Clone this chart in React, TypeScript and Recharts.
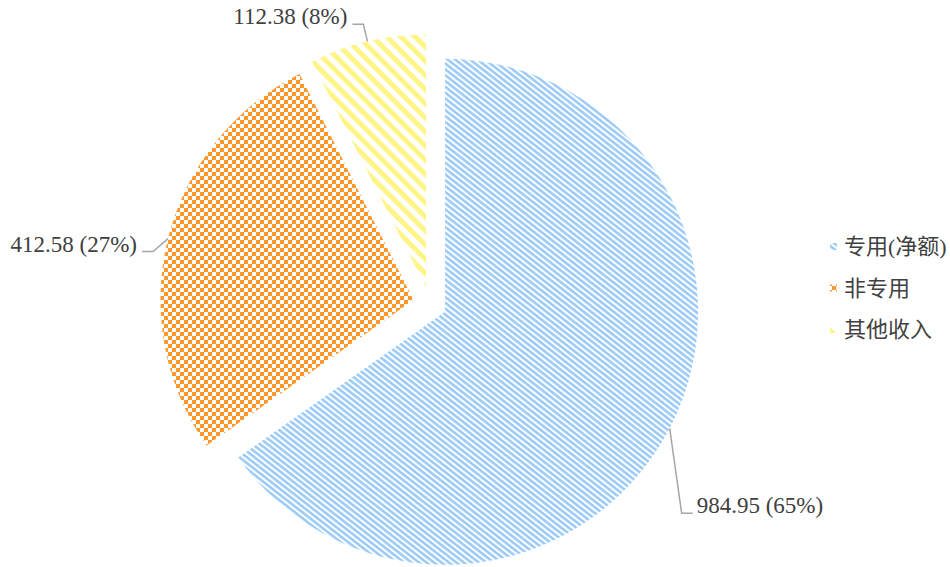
import { PieChart, Pie, Cell, Sector, Legend } from "recharts";

const categories = ["专用(净额)", "非专用", "其他收入"];
const values = [984.95, 412.58, 112.38];
const patternIds = ["pat-blue", "pat-orange", "pat-yellow"];

// label line bends (elbow relative to the arc point), tuned to the reference layout
const elbowOffsets = [
  [12, 85],
  [-15, 13],
  [-4, -17],
];

const OFFSET = 17;
const RADIAN = Math.PI / 180;
const FONT = '"Liberation Serif", "Times New Roman", "Noto Sans CJK SC", serif';

// largest remainder rounding so the percentages sum to 100
const roundPercents = (vals: number[]) => {
  const total = vals.reduce((a, b) => a + b, 0);
  const raw = vals.map((v) => (v / total) * 100);
  const out = raw.map((r) => Math.floor(r));
  let left = 100 - out.reduce((a, b) => a + b, 0);
  const order = raw
    .map((r, i) => ({ i, rem: r - Math.floor(r) }))
    .sort((a, b) => b.rem - a.rem);
  for (let k = 0; k < order.length && left > 0; k++, left--) out[order[k].i] += 1;
  return out;
};

const percents = roundPercents(values);
const data = categories.map((name, i) => ({ name, value: values[i] }));

const shifted = (cx: number, cy: number, midAngle: number) => ({
  x: cx + OFFSET * Math.cos(-midAngle * RADIAN),
  y: cy + OFFSET * Math.sin(-midAngle * RADIAN),
});

const renderSlice = (props: any) => {
  const { cx, cy, midAngle, innerRadius, outerRadius, startAngle, endAngle, fill } = props;
  const c = shifted(cx, cy, midAngle);
  return (
    <Sector
      cx={c.x}
      cy={c.y}
      innerRadius={innerRadius}
      outerRadius={outerRadius}
      startAngle={startAngle}
      endAngle={endAngle}
      fill={fill}
      stroke="none"
    />
  );
};

const renderLabel = (props: any) => {
  const { cx, cy, midAngle, outerRadius, index } = props;
  const c = shifted(cx, cy, midAngle);
  const sx = c.x + outerRadius * Math.cos(-midAngle * RADIAN);
  const sy = c.y + outerRadius * Math.sin(-midAngle * RADIAN);
  const [dx, dy] = elbowOffsets[index];
  const ex = sx + dx;
  const ey = sy + dy;
  const right = dx >= 0;
  const tx = ex + (right ? 11 : -11);
  return (
    <g>
      <polyline
        points={`${sx},${sy} ${ex},${ey} ${tx},${ey}`}
        fill="none"
        stroke="#a6a6a6"
        strokeWidth={1.5}
      />
      <text
        x={tx + (right ? 4 : -5)}
        y={ey}
        textAnchor={right ? "start" : "end"}
        fill="#404040"
        fontSize={23}
        fontFamily={FONT}
      >
        {`${values[index]} (${percents[index]}%)`}
      </text>
    </g>
  );
};

const LegendContent = () => (
  <svg width={130} height={130}>
    {categories.map((name, i) => (
      <g key={name}>
        <rect x={6} y={21 + i * 41.5} width={7} height={7} fill={`url(#${patternIds[i]})`} />
        <text x={20} y={32 + i * 41.5} fontSize={22} fill="#404040" fontFamily={FONT}>
          {name}
        </text>
      </g>
    ))}
  </svg>
);

const Patterns = () => (
  <svg width={0} height={0} style={{ position: "absolute" }}>
    <defs>
      <pattern id="pat-blue" patternUnits="userSpaceOnUse" width={8} height={4.6} patternTransform="rotate(38)">
        <rect x={0} y={0} width={8} height={2.6} fill="#9ccbf7" />
      </pattern>
      <pattern id="pat-orange" patternUnits="userSpaceOnUse" width={8} height={8}>
        <rect x={0} y={0} width={4} height={4} fill="#ff982a" />
        <rect x={4} y={4} width={4} height={4} fill="#ff982a" />
      </pattern>
      <pattern id="pat-yellow" patternUnits="userSpaceOnUse" width={10} height={10} patternTransform="rotate(45)">
        <rect x={0} y={0} width={10} height={5} fill="#fff587" />
      </pattern>
    </defs>
  </svg>
);

export default function App() {
  return (
    <div style={{ position: "fixed", left: 0, top: 0, background: "#fff" }}>
      <Patterns />
      <PieChart width={950} height={567} margin={{ top: 0, right: 0, bottom: 0, left: 0 }}>
        <Pie
          data={data}
          dataKey="value"
          nameKey="name"
          cx={430}
          cy={304}
          outerRadius={253}
          startAngle={90}
          endAngle={-270}
          stroke="none"
          shape={renderSlice}
          inactiveShape={renderSlice}
          activeShape={renderSlice}
          label={renderLabel}
          labelLine={false}
          isAnimationActive={false}
        >
          {data.map((d, i) => (
            <Cell key={d.name} fill={`url(#${patternIds[i]})`} />
          ))}
        </Pie>
        <Legend
          content={<LegendContent />}
          wrapperStyle={{ position: "absolute", left: 824, top: 222, width: 130, right: "auto", bottom: "auto" }}
        />
      </PieChart>
    </div>
  );
}
